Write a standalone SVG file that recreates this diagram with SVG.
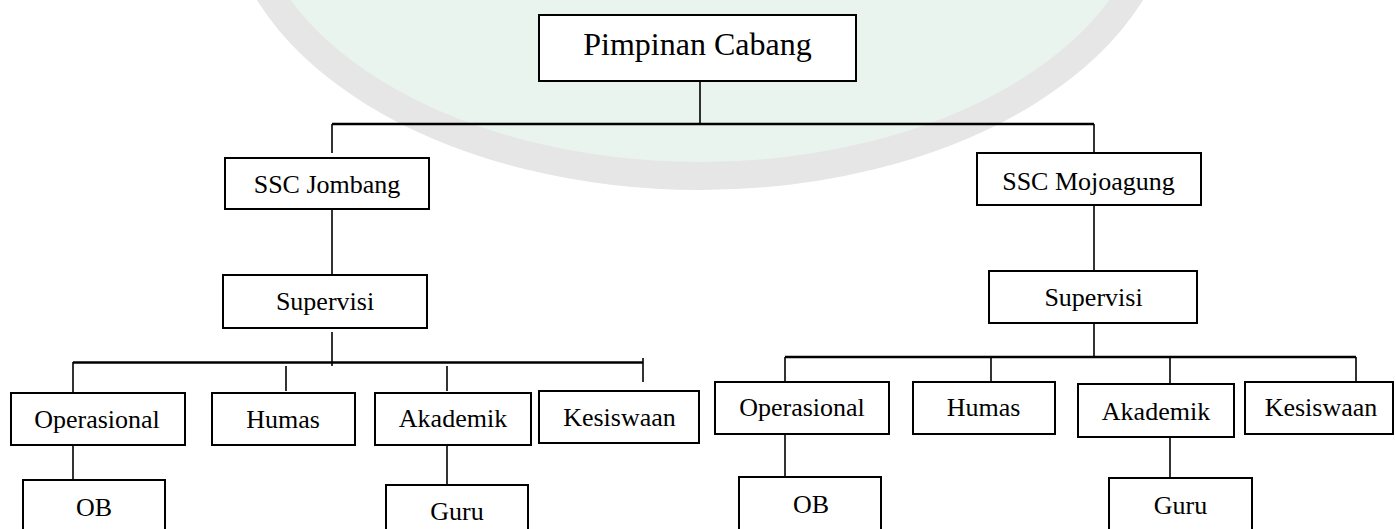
<svg xmlns="http://www.w3.org/2000/svg" width="1396" height="529" viewBox="0 0 1396 529">
<defs>
<style>
.box{fill:#ffffff;stroke:#000;stroke-width:2}
.t{font-family:"Liberation Serif","Times New Roman",serif;font-size:26px;fill:#000;text-anchor:middle}
.big{font-size:32px}
.ln{stroke:#000;stroke-width:1.6;fill:none}
.hl{stroke:#000;stroke-width:2.4;fill:none}
</style>
</defs>
<rect width="1396" height="529" fill="#ffffff"/>
<g id="watermark">
<ellipse cx="700" cy="-110" rx="462" ry="286" fill="#e8f4ed" stroke="#e6e6e6" stroke-width="28"/>
</g>
<g id="connectors">
<line class="ln" x1="700" y1="81" x2="700" y2="124"/>
<line class="hl" x1="332" y1="124" x2="1094" y2="124"/>
<line class="ln" x1="332" y1="124" x2="332" y2="153"/>
<line class="ln" x1="1094" y1="124" x2="1094" y2="153"/>
<line class="ln" x1="332" y1="209" x2="332" y2="274"/>
<line class="ln" x1="332" y1="332" x2="332" y2="366"/>
<line class="hl" x1="73" y1="362.5" x2="643" y2="362.5"/>
<line class="ln" x1="73" y1="362" x2="73" y2="392"/>
<line class="ln" x1="286" y1="366" x2="286" y2="391"/>
<line class="ln" x1="447" y1="366" x2="447" y2="391"/>
<line class="ln" x1="643" y1="358" x2="643" y2="382"/>
<line class="ln" x1="73" y1="445" x2="73" y2="480"/>
<line class="ln" x1="447" y1="445" x2="447" y2="485"/>
<line class="ln" x1="1094" y1="205" x2="1094" y2="271"/>
<line class="ln" x1="1094" y1="323" x2="1094" y2="357"/>
<line class="hl" x1="785" y1="357" x2="1356" y2="357"/>
<line class="ln" x1="785" y1="357" x2="785" y2="382"/>
<line class="ln" x1="991" y1="357" x2="991" y2="382"/>
<line class="ln" x1="1170" y1="357" x2="1170" y2="384"/>
<line class="ln" x1="1356" y1="357" x2="1356" y2="382"/>
<line class="ln" x1="785" y1="434" x2="785" y2="477"/>
<line class="ln" x1="1170" y1="437" x2="1170" y2="478"/>
</g>
<g id="pimpinan"><rect class="box" x="539" y="15" width="317" height="66"/><text class="t big" x="697.5" y="55">Pimpinan Cabang</text></g>
<g id="ssc-jombang"><rect class="box" x="225" y="158" width="204" height="51"/><text class="t" x="327" y="193">SSC Jombang</text></g>
<g id="supervisi-l"><rect class="box" x="223" y="275" width="204" height="53"/><text class="t" x="325" y="310">Supervisi</text></g>
<g id="operasional-l"><rect class="box" x="11" y="393" width="174" height="52"/><text class="t" x="97" y="428">Operasional</text></g>
<g id="humas-l"><rect class="box" x="212" y="393" width="143" height="52"/><text class="t" x="283" y="428">Humas</text></g>
<g id="akademik-l"><rect class="box" x="375" y="393" width="156" height="52"/><text class="t" x="453" y="427">Akademik</text></g>
<g id="kesiswaan-l"><rect class="box" x="539" y="391" width="160" height="52"/><text class="t" x="619.5" y="426">Kesiswaan</text></g>
<g id="ob-l"><rect class="box" x="23" y="480" width="142" height="60"/><text class="t" x="94" y="516">OB</text></g>
<g id="guru-l"><rect class="box" x="386" y="485" width="142" height="55"/><text class="t" x="457" y="520">Guru</text></g>
<g id="ssc-mojoagung"><rect class="box" x="977" y="153" width="224" height="52"/><text class="t" x="1088.5" y="190">SSC Mojoagung</text></g>
<g id="supervisi-r"><rect class="box" x="989" y="271" width="208" height="52"/><text class="t" x="1093.5" y="306">Supervisi</text></g>
<g id="operasional-r"><rect class="box" x="715" y="382" width="174" height="52"/><text class="t" x="802" y="416">Operasional</text></g>
<g id="humas-r"><rect class="box" x="913" y="382" width="142" height="52"/><text class="t" x="983.5" y="416">Humas</text></g>
<g id="akademik-r"><rect class="box" x="1078" y="384" width="156" height="53"/><text class="t" x="1156" y="420">Akademik</text></g>
<g id="kesiswaan-r"><rect class="box" x="1245" y="382" width="148" height="52"/><text class="t" x="1321" y="416">Kesiswaan</text></g>
<g id="ob-r"><rect class="box" x="739" y="477" width="142" height="60"/><text class="t" x="811" y="513">OB</text></g>
<g id="guru-r"><rect class="box" x="1109" y="478" width="143" height="60"/><text class="t" x="1180.5" y="514">Guru</text></g>
</svg>
